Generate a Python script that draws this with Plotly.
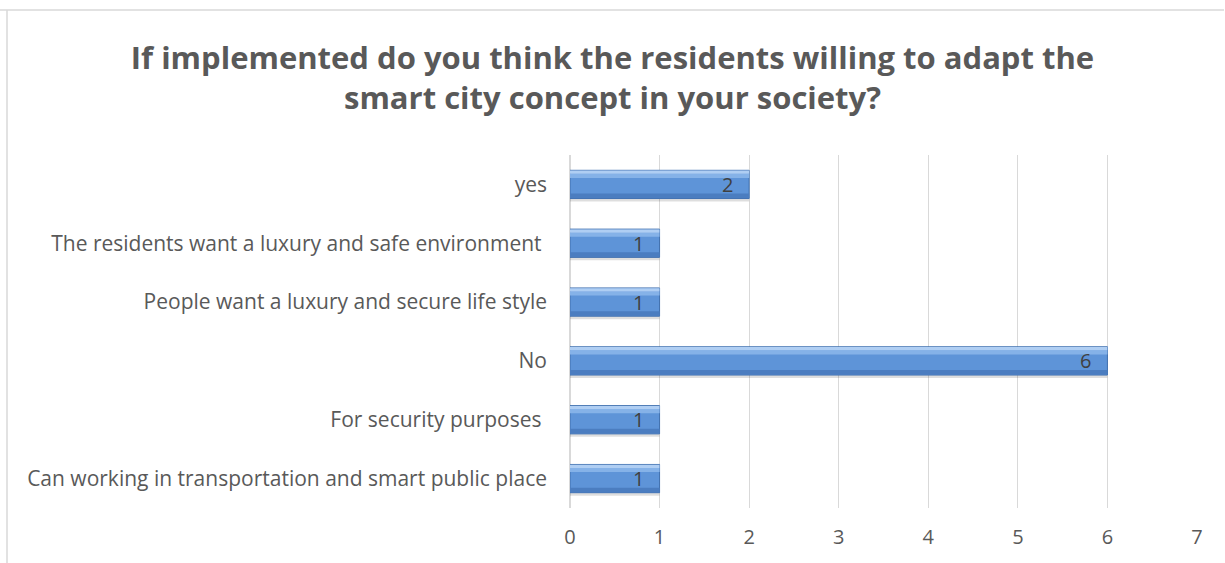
import plotly.graph_objects as go

# Survey responses (bottom to top as drawn)
categories = [
    "Can working in transportation and smart public place",
    "For security purposes ",
    "No",
    "People want a luxury and secure life style",
    "The residents want a luxury and safe environment ",
    "yes",
]
counts = [1, 1, 6, 1, 1, 2]
x_ticks = [0, 1, 2, 3, 4, 5, 6, 7]

title_text = ("If implemented do you think the residents willing to adapt the<br>"
              "smart city concept in your society?")

FONT = "'Open Sans', sans-serif"
GRAY = "#595959"


def bar_layer(color, width, offset, line=None, **kw):
    """One horizontal layer of the bevelled bar, drawn from the counts."""
    return go.Bar(
        y=categories, x=counts, orientation="h", width=width, offset=offset,
        marker=dict(color=color, line=line or dict(width=0)),
        showlegend=False, hoverinfo="skip", **kw,
    )


fig = go.Figure()
fig.add_trace(bar_layer("rgba(0,0,0,0.13)", 0.50, -0.29))            # drop shadow
fig.add_trace(bar_layer("#5E94D8", 0.48, -0.24,
                        line=dict(color="#3F6FAE", width=1)))         # body
fig.add_trace(bar_layer("#4B7DC0", 0.08, -0.235))                     # lower bevel
fig.add_trace(bar_layer("#85B2E8", 0.07, 0.11))                       # upper gradient
fig.add_trace(bar_layer("#AFCEF3", 0.055, 0.18))                      # top highlight

# value labels just inside the end of each bar
for cat, v in zip(categories, counts):
    fig.add_annotation(
        x=v, y=cat, text=str(v), showarrow=False,
        xanchor="right", yanchor="middle", xshift=-14,
        font=dict(family=FONT, size=20, color="#404040"),
    )

fig.update_layout(
    width=1225, height=563,
    paper_bgcolor="white", plot_bgcolor="white",
    barmode="overlay",
    margin=dict(l=570, r=28, t=155, b=55),
    title=dict(
        text=title_text, x=0.5, xanchor="center", y=0.878, yanchor="middle",
        font=dict(family=FONT, size=31, color=GRAY, weight="bold"),
    ),
    xaxis=dict(
        range=[0, 7], tickvals=x_ticks, showgrid=True, gridcolor="#D9D9D9",
        gridwidth=1, zeroline=True, zerolinecolor="#D9D9D9", showline=False,
        ticks="", tickfont=dict(family=FONT, size=20, color=GRAY),
        ticklabelstandoff=15, fixedrange=True,
    ),
    yaxis=dict(
        categoryorder="array", categoryarray=categories,
        showgrid=False, showline=False, ticks="",
        tickfont=dict(family=FONT, size=21, color=GRAY),
        ticklabelstandoff=22, fixedrange=True,
    ),
    shapes=[
        dict(type="line", xref="paper", yref="paper", x0=-570/627, x1=(1224-570)/627,
             y0=1 + 145/353, y1=1 + 145/353, line=dict(color="#D9D9D9", width=1.5)),
        dict(type="line", xref="paper", yref="paper", x0=-563/627, x1=-563/627,
             y0=1 + 145/353, y1=-55/353, line=dict(color="#D9D9D9", width=1.5)),
    ],
)

fig.write_html("out.html")
